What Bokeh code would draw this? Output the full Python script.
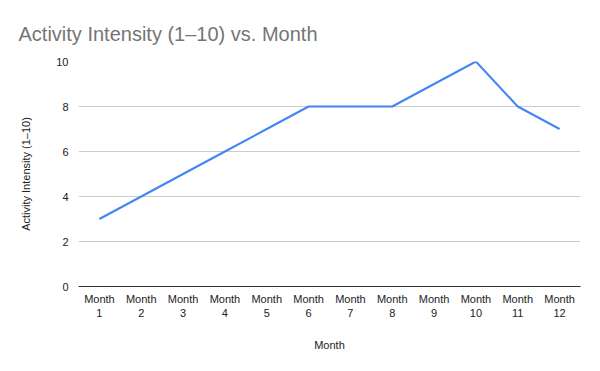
from bokeh.plotting import figure
from bokeh.models import Range1d, FixedTicker, CustomJSTickFormatter
from bokeh.embed import file_html
from bokeh.resources import INLINE

months = ["Month 1", "Month 2", "Month 3", "Month 4", "Month 5", "Month 6",
          "Month 7", "Month 8", "Month 9", "Month 10", "Month 11", "Month 12"]
intensity = [3, 4, 5, 6, 7, 8, 8, 8, 9, 10, 8, 7]
y_ticks = [0, 2, 4, 6, 8, 10]

FONT = "Liberation Sans"

p = figure(width=592, height=363, x_range=months, y_range=Range1d(0, 10),
           output_backend="svg", toolbar_location=None,
           min_border_left=78, min_border_right=12, min_border_top=61, min_border_bottom=77)

p.line(months, intensity, line_color="#4285F4", line_width=2)

p.title.text = "Activity Intensity (1–10) vs. Month"
p.title.text_font = FONT
p.title.text_font_size = "20px"
p.title.text_color = "#757575"
p.title.text_font_style = "normal"
p.title.offset = -60
p.title.standoff = 33

p.outline_line_color = None
p.background_fill_color = "white"
p.border_fill_color = "white"

xa = p.xaxis[0]
xa.formatter = CustomJSTickFormatter(code="return tick.replace(' ', '\\n');")
xa.major_label_text_font = FONT
xa.major_label_text_font_size = "11px"
xa.major_label_text_color = "#222222"
xa.major_label_standoff = 0
xa.axis_line_color = "#333333"
xa.major_tick_line_color = None
xa.minor_tick_line_color = None
xa.axis_label = "Month"
xa.axis_label_text_font = FONT
xa.axis_label_text_font_size = "11px"
xa.axis_label_text_font_style = "normal"
xa.axis_label_text_color = "#222222"
xa.axis_label_standoff = 17

ya = p.yaxis[0]
ya.ticker = FixedTicker(ticks=y_ticks)
ya.axis_label = "Activity Intensity (1–10)"
ya.axis_label_text_font = FONT
ya.axis_label_text_font_size = "11px"
ya.axis_label_text_font_style = "normal"
ya.axis_label_text_color = "#222222"
ya.axis_label_standoff = 21
ya.major_label_text_font = FONT
ya.major_label_text_font_size = "11px"
ya.major_label_text_color = "#222222"
ya.major_label_standoff = 4
ya.axis_line_color = None
ya.major_tick_line_color = None
ya.minor_tick_line_color = None

p.xgrid.grid_line_color = None
p.ygrid.grid_line_color = "#cccccc"
p.ygrid.ticker = FixedTicker(ticks=y_ticks)

open("out.html", "w").write(file_html(p, INLINE))
